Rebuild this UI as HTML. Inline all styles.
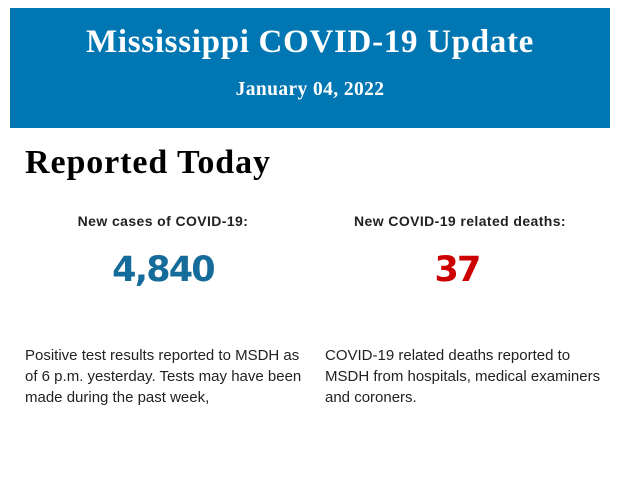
<!DOCTYPE html>
<html><head><meta charset="utf-8"><style>
body{margin:0;width:620px;height:483px;background:#fff;position:relative;overflow:hidden}
.ban{position:absolute;left:10px;top:8px;width:600px;height:120px;background:#0077b3;color:#fff;font-family:"Liberation Serif",serif;font-weight:bold;text-align:center}
.t{position:absolute;left:0;width:600px;top:16px;font-size:33px;letter-spacing:0.7px}
.d{position:absolute;left:0;width:600px;top:71px;font-size:19.5px;letter-spacing:0.4px}
.h{position:absolute;left:25px;top:144px;font-family:"Liberation Serif",serif;font-weight:bold;font-size:34px;letter-spacing:0.9px}
.lab{position:absolute;font-family:"Liberation Sans",sans-serif;font-weight:bold;font-size:14px;letter-spacing:0.4px;color:#222;text-align:center;width:300px;top:213px}
.num{position:absolute;font-family:"DejaVu Sans",sans-serif;font-weight:bold;font-size:35px;letter-spacing:-1.8px;text-align:center;width:300px;top:250px}
.p{position:absolute;font-family:"Liberation Sans",sans-serif;font-size:15px;line-height:21px;color:#222;top:345px;width:280px}
</style></head><body>
<div class="ban"><div class="t">Mississippi COVID-19 Update</div><div class="d">January 04, 2022</div></div>
<div class="h">Reported Today</div>
<div class="lab" style="left:13px">New cases of COVID-19:</div>
<div class="lab" style="left:310px">New COVID-19 related deaths:</div>
<div class="num" style="left:13px;color:#156b99">4,840</div>
<div class="num" style="left:307px;color:#cc0000">37</div>
<div class="p" style="left:25px">Positive test results reported to MSDH as of 6 p.m. yesterday. Tests may have been made during the past week,</div>
<div class="p" style="left:325px">COVID-19 related deaths reported to MSDH from hospitals, medical examiners and coroners.</div>
</body></html>
